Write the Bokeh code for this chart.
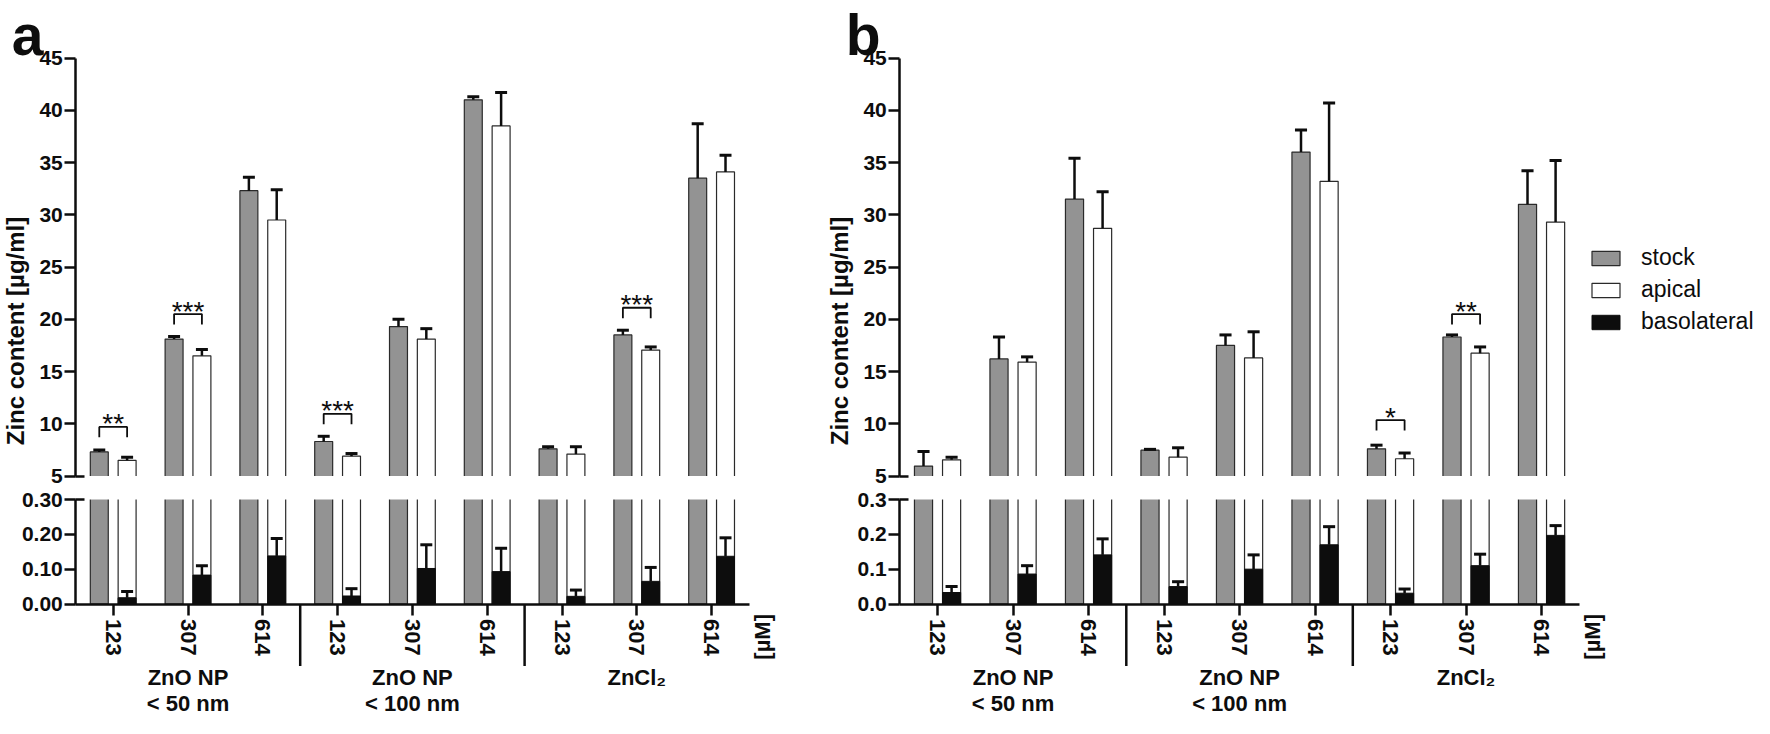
import math
import numpy as np
from bokeh.plotting import figure
from bokeh.models import (Range1d, LinearAxis, FixedTicker, PrintfTickFormatter,
                          Legend, LegendItem)
from bokeh.layouts import row
from bokeh.core.properties import value
from bokeh.embed import file_html
from bokeh.resources import INLINE

# ---------------- data ----------------
conc_labels = ["123", "307", "614", "123", "307", "614", "123", "307", "614"]
group_line1 = ["ZnO NP", "ZnO NP", "ZnCl₂"]
group_line2 = ["< 50 nm", "< 100 nm", ""]
series_names = ["stock", "apical", "basolateral"]
upper_ticks = [5, 10, 15, 20, 25, 30, 35, 40, 45]
lower_ticks = [0.0, 0.1, 0.2, 0.3]
unit_label = "[µM]"
y_title = "Zinc content [µg/ml]"

# panel a
stock_a = [7.3, 18.1, 32.3, 8.3, 19.3, 41.0, 7.6, 18.5, 33.5]
stock_a_err = [0.2, 0.25, 1.3, 0.5, 0.7, 0.3, 0.2, 0.45, 5.2]
apical_a = [6.5, 16.5, 29.5, 6.9, 18.1, 38.5, 7.1, 17.05, 34.1]
apical_a_err = [0.3, 0.6, 2.9, 0.25, 1.0, 3.2, 0.7, 0.3, 1.6]
baso_a = [0.018, 0.083, 0.138, 0.023, 0.102, 0.093, 0.022, 0.065, 0.137]
baso_a_err = [0.018, 0.027, 0.05, 0.021, 0.068, 0.067, 0.018, 0.04, 0.053]
sig_a_idx = [0, 1, 3, 7]
sig_a_lab = ["**", "***", "***", "***"]
sig_a_h = [9.7, 20.5, 10.95, 21.1]

# panel b
stock_b = [5.95, 16.2, 31.5, 7.47, 17.5, 36.0, 7.6, 18.3, 31.0]
stock_b_err = [1.4, 2.1, 3.9, 0.08, 1.0, 2.1, 0.35, 0.2, 3.2]
apical_b = [6.55, 15.9, 28.7, 6.8, 16.3, 33.2, 6.65, 16.75, 29.3]
apical_b_err = [0.25, 0.5, 3.5, 0.9, 2.5, 7.5, 0.55, 0.6, 5.9]
baso_b = [0.033, 0.086, 0.141, 0.05, 0.10, 0.17, 0.031, 0.11, 0.197]
baso_b_err = [0.017, 0.024, 0.046, 0.014, 0.041, 0.052, 0.012, 0.033, 0.028]
sig_b_idx = [6, 7]
sig_b_lab = ["*", "**"]
sig_b_h = [10.35, 20.5]

# ---------------- styling / geometry ----------------
FONT = "Liberation Sans"
GRAY = "#939393"
DARK = "#2a2a2a"
BLACK = "#0d0d0d"
PAGE_TOP, PAGE_BOT = 8.0, 726.0
Y_UP_TOP, Y_UP_BOT, Y_LO_TOP, Y_LO_BOT = 65.5, 483.5, 507.0, 611.5
UP_MIN, UP_MAX = upper_ticks[0], upper_ticks[-1]
LO_MIN, LO_MAX = lower_ticks[0], lower_ticks[-1]
OFF = 0.186      # bar offset from category centre
BW = 0.24        # bar width
CAP = 0.16       # error cap width
LEG = 1.0        # bracket leg length (upper units)


def make_panel(letter, px_left, px_right, axis_px, cat_px,
               stock, stock_err, apical, apical_err, baso, baso_err,
               sig_idx, sig_lab, sig_h, low_fmt, letter_dx, with_legend):
    W = int(round(px_right - px_left))
    H = int(round(PAGE_BOT - PAGE_TOP))
    n = len(conc_labels)
    xa0, xa1 = -0.5, n - 0.5
    x0 = xa0 - (axis_px - px_left) / cat_px
    x1 = x0 + W / cat_px
    ppu = (Y_UP_BOT - Y_UP_TOP) / (UP_MAX - UP_MIN)
    yu0 = UP_MAX - (PAGE_BOT - Y_UP_TOP) / ppu
    yu1 = UP_MAX + (Y_UP_TOP - PAGE_TOP) / ppu
    ppl = (Y_LO_BOT - Y_LO_TOP) / (LO_MAX - LO_MIN)
    yl0 = LO_MIN - (PAGE_BOT - Y_LO_BOT) / ppl
    yl1 = LO_MIN + (Y_LO_BOT - PAGE_TOP) / ppl
    gap_px = Y_LO_TOP - Y_UP_BOT

    p = figure(width=W, height=H, x_range=Range1d(x0, x1), y_range=Range1d(yu0, yu1),
               x_axis_location=None, y_axis_location=None, toolbar_location=None,
               output_backend="svg", min_border_left=0, min_border_right=0,
               min_border_top=0, min_border_bottom=0)
    p.extra_y_ranges = {"low": Range1d(yl0, yl1)}
    p.xgrid.visible = False
    p.ygrid.visible = False
    p.outline_line_color = None
    p.background_fill_color = "white"
    p.border_fill_color = "white"

    xc = np.arange(n, dtype=float)
    xs = xc - OFF
    xa = xc + OFF

    # upper segment bars
    ub = UP_MIN - 0.5 * gap_px / ppu
    r_stock = p.vbar(x=xs, width=BW, bottom=ub, top=stock, fill_color=GRAY,
                     line_color=DARK, line_width=1.2)
    r_ap = p.vbar(x=xa, width=BW, bottom=ub, top=apical, fill_color="white",
                  line_color=DARK, line_width=1.2)
    # lower segment bars (broken at LO_MAX)
    lt = LO_MAX + 0.5 * gap_px / ppl
    p.vbar(x=xs, width=BW, bottom=LO_MIN, top=[lt if v > LO_MAX else v for v in stock],
           fill_color=GRAY, line_color=DARK, line_width=1.2, y_range_name="low")
    p.vbar(x=xa, width=BW, bottom=LO_MIN, top=[lt if v > LO_MAX else v for v in apical],
           fill_color="white", line_color=DARK, line_width=1.2, y_range_name="low")
    r_baso = p.vbar(x=xa, width=BW, bottom=LO_MIN, top=baso, fill_color=BLACK,
                    line_color=BLACK, line_width=1.0, y_range_name="low")

    # error bars (upward)
    for xx, v, e, rn in ((xs, stock, stock_err, "default"), (xa, apical, apical_err, "default"),
                         (xa, baso, baso_err, "low")):
        v = np.asarray(v); e = np.asarray(e)
        p.segment(x0=xx, y0=v, x1=xx, y1=v + e, line_color=BLACK, line_width=2.5,
                  y_range_name=rn)
        p.segment(x0=xx - CAP / 2, y0=v + e, x1=xx + CAP / 2, y1=v + e,
                  line_color=BLACK, line_width=3, y_range_name=rn)

    # white band hiding the bar ends at the axis break
    p.quad(left=[xa0], right=[xa1], bottom=[LO_MAX], top=[LO_MAX + gap_px / ppl],
           fill_color="white", line_color=None, y_range_name="low")

    # axes
    def style_y(ax, size="21px"):
        ax.axis_line_width = 2.5
        ax.axis_line_color = BLACK
        ax.major_tick_line_width = 2.5
        ax.major_tick_line_color = BLACK
        ax.major_tick_out = 11
        ax.major_tick_in = 0
        ax.minor_tick_line_color = None
        ax.major_label_text_font = FONT
        ax.major_label_text_font_style = "bold"
        ax.major_label_text_font_size = size
        ax.major_label_text_color = BLACK
        ax.major_label_standoff = 2

    ax_up = LinearAxis(ticker=FixedTicker(ticks=upper_ticks), bounds=(UP_MIN, UP_MAX),
                       fixed_location=xa0)
    style_y(ax_up)
    p.add_layout(ax_up, "left")
    ax_lo = LinearAxis(ticker=FixedTicker(ticks=lower_ticks), bounds=(LO_MIN, LO_MAX),
                       fixed_location=xa0, y_range_name="low",
                       formatter=PrintfTickFormatter(format=low_fmt))
    style_y(ax_lo)
    p.add_layout(ax_lo, "left")
    # break ticks crossing the axis
    for tk, rn in ((UP_MIN, "default"), (LO_MAX, "low")):
        bk = LinearAxis(ticker=FixedTicker(ticks=[tk]), fixed_location=xa0, y_range_name=rn,
                        major_label_overrides={tk: ""})
        bk.axis_line_color = None
        bk.major_tick_in = 9
        bk.major_tick_out = 0
        bk.major_tick_line_width = 2.5
        bk.major_tick_line_color = BLACK
        bk.minor_tick_line_color = None
        bk.major_label_text_font_size = "1px"
        p.add_layout(bk, "left")

    ax_x = LinearAxis(ticker=FixedTicker(ticks=list(range(n))), bounds=(xa0, xa1),
                      fixed_location=LO_MIN, y_range_name="low",
                      major_label_overrides={i: lab for i, lab in enumerate(conc_labels)},
                      major_label_orientation="vertical")
    ax_x.axis_line_width = 2.5
    ax_x.axis_line_color = BLACK
    ax_x.major_tick_line_width = 2.5
    ax_x.major_tick_line_color = BLACK
    ax_x.major_tick_out = 11
    ax_x.major_tick_in = 0
    ax_x.minor_tick_line_color = None
    ax_x.major_label_text_font = FONT
    ax_x.major_label_text_font_style = "bold"
    ax_x.major_label_text_font_size = "22px"
    ax_x.major_label_text_color = BLACK
    ax_x.major_label_standoff = 4
    p.add_layout(ax_x, "below")

    # group separators below the axis
    sep_x = [3 * g - 0.5 for g in range(1, len(group_line1))]
    p.segment(x0=sep_x, y0=[LO_MIN] * len(sep_x), x1=sep_x,
              y1=[LO_MIN - 62 / ppl] * len(sep_x), line_color=BLACK, line_width=2.5,
              y_range_name="low")

    # group labels
    gx = [3 * g + 1 for g in range(len(group_line1))]
    p.text(x=gx, y=[LO_MIN] * len(gx), text=group_line1, y_range_name="low",
           y_offset=73, text_align="center", text_baseline="middle",
           text_font=value(FONT), text_font_style="bold", text_font_size="22px",
           text_color=BLACK)
    g2x = [x for x, t in zip(gx, group_line2) if t]
    g2t = [t for t in group_line2 if t]
    p.text(x=g2x, y=[LO_MIN] * len(g2x), text=g2t, y_range_name="low",
           y_offset=99, text_align="center", text_baseline="middle",
           text_font=value(FONT), text_font_style="bold", text_font_size="22px",
           text_color=BLACK)
    # unit label
    p.text(x=[xa1], y=[LO_MIN], text=[unit_label], y_range_name="low",
           x_offset=13.5, y_offset=10, angle=math.pi / 2, text_align="right",
           text_baseline="middle", text_font=value(FONT), text_font_style="bold",
           text_font_size="22px", text_color=BLACK)

    # y title centred on the whole broken axis
    mid_px = (Y_UP_TOP + Y_LO_BOT) / 2
    p.text(x=[xa0], y=[UP_MAX - (mid_px - Y_UP_TOP) / ppu], text=[y_title],
           x_offset=-60, angle=math.pi / 2, text_align="center", text_baseline="middle",
           text_font=value(FONT), text_font_style="bold", text_font_size="24px",
           text_color=BLACK)

    # panel letter
    p.text(x=[xa0], y=[UP_MAX], text=[letter], x_offset=letter_dx, y_offset=-23.5,
           text_align="left", text_baseline="alphabetic", text_font=value(FONT),
           text_font_style="bold", text_font_size="57px", text_color=BLACK)

    # significance brackets
    bx = [[i - OFF, i - OFF, i + OFF, i + OFF] for i in sig_idx]
    by = [[h - LEG, h, h, h - LEG] for h in sig_h]
    p.multi_line(xs=bx, ys=by, line_color=BLACK, line_width=1.8)
    p.text(x=list(sig_idx), y=list(sig_h), text=list(sig_lab), y_offset=-3,
           text_align="center", text_baseline="alphabetic", text_font=value(FONT),
           text_font_size="28px", text_color=BLACK)

    if with_legend:
        legend = Legend(items=[LegendItem(label=series_names[0], renderers=[r_stock]),
                               LegendItem(label=series_names[1], renderers=[r_ap]),
                               LegendItem(label=series_names[2], renderers=[r_baso])],
                        location=(1596 - px_left, PAGE_BOT - 343))
        legend.glyph_width = 35
        legend.glyph_height = 18
        legend.label_height = 18
        legend.label_standoff = 18
        legend.label_text_font = FONT
        legend.label_text_font_size = "23px"
        legend.label_text_color = BLACK
        legend.spacing = 5
        legend.padding = 0
        legend.margin = 0
        legend.border_line_color = None
        legend.background_fill_alpha = 0
        p.add_layout(legend)
    return p


pa = make_panel("a", 8, 830, 83.3, 74.8, stock_a, stock_a_err, apical_a, apical_a_err,
                baso_a, baso_a_err, sig_a_idx, sig_a_lab, sig_a_h, "%.2f", -64, False)
pb = make_panel("b", 830, 1762, 907.3, 75.5, stock_b, stock_b_err, apical_b, apical_b_err,
                baso_b, baso_b_err, sig_b_idx, sig_b_lab, sig_b_h, "%.1f", -54, True)

layout = row(pa, pb)
open("out.html", "w").write(file_html(layout, INLINE))
